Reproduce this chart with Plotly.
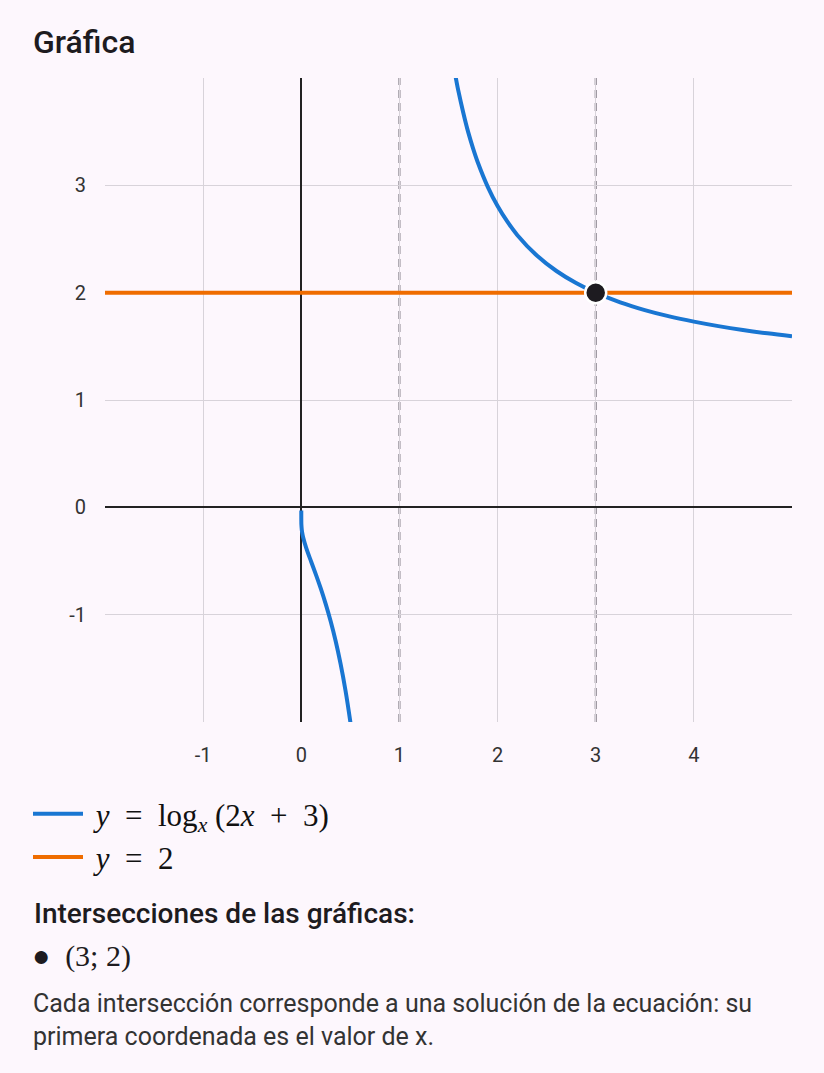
import plotly.graph_objects as go

# Branch of y = log_x(2x+3) for 0 < x < 1
x_left = [0.0, 0.0001, 0.001, 0.005, 0.01, 0.02, 0.05, 0.1, 0.15, 0.2, 0.25, 0.3, 0.35, 0.4, 0.45, 0.5, 0.52]
y_left = [-0.03, -0.119, -0.159, -0.208, -0.240, -0.284, -0.378, -0.505, -0.629, -0.760, -0.904, -1.064, -1.246, -1.457, -1.704, -2.0, -2.135]

# Branch for x > 1
x_right = [1.55, 1.56, 1.58, 1.6, 1.65, 1.7, 1.75, 1.8, 1.9, 2.0, 2.1, 2.2, 2.4, 2.6, 2.8, 3.0, 3.25, 3.5, 3.75, 4.0, 4.25, 4.5, 4.75, 5.0]
y_right = [4.126, 4.074, 3.975, 3.882, 3.679, 3.498, 3.345, 3.210, 2.986, 2.807, 2.661, 2.538, 2.346, 2.202, 2.090, 2.0, 1.910, 1.838, 1.779, 1.730, 1.688, 1.652, 1.621, 1.594]

# Horizontal line y = 2
x_line = [-2, 5]
y_line = [2, 2]

# Dashed verticals (x = 1 excluded base, x = 3 solution)
dashed_x = [1, 3]

# Intersection point
inter_x = [3]
inter_y = [2]

x_ticks = [-1, 0, 1, 2, 3, 4]
y_ticks = [-1, 0, 1, 2, 3]

BLUE = "#1976d2"
ORANGE = "#ef6c00"
BG = "#fdf7fd"
DARK = "#1d1b20"

fig = go.Figure()

fig.add_trace(go.Scatter(
    x=x_left, y=y_left, mode="lines", line_shape="spline",
    line=dict(color=BLUE, width=4),
    name="&nbsp;<i>y</i>&nbsp; = &nbsp;log<sub><i>x</i></sub>&nbsp;(2<i>x</i>&nbsp; + &nbsp;3)",
    legendgroup="f", showlegend=True, hoverinfo="skip"))
fig.add_trace(go.Scatter(
    x=x_right, y=y_right, mode="lines", line_shape="spline",
    line=dict(color=BLUE, width=4),
    legendgroup="f", showlegend=False, hoverinfo="skip"))
fig.add_trace(go.Scatter(
    x=x_line, y=y_line, mode="lines",
    line=dict(color=ORANGE, width=4),
    name="&nbsp;<i>y</i>&nbsp; = &nbsp;2", hoverinfo="skip"))
fig.add_trace(go.Scatter(
    x=inter_x, y=inter_y, mode="markers",
    marker=dict(color=DARK, size=21, line=dict(color="white", width=2.5)),
    showlegend=False, hoverinfo="skip"))

for xv in dashed_x:
    fig.add_shape(type="line", xref="x", yref="paper", x0=xv, x1=xv, y0=0, y1=1,
                  line=dict(color="#79747e", width=2, dash="8px,5px"), layer="below")

fig.update_layout(
    width=824, height=1073,
    paper_bgcolor=BG, plot_bgcolor=BG,
    margin=dict(l=105, r=32, t=78, b=351, autoexpand=False),
    font=dict(family="Roboto", color="#333333", size=20),
    title=dict(text="Gráfica", x=33/824, xanchor="left", xref="container",
               y=1 - 42/1073, yanchor="middle", yref="container",
               font=dict(family="Roboto", size=32, color=DARK, weight=500)),
    xaxis=dict(range=[-2, 5], tickvals=x_ticks, ticktext=[str(v) for v in x_ticks],
               showgrid=True, gridcolor="#d8d3da", gridwidth=1,
               zeroline=True, zerolinecolor="#222222", zerolinewidth=2,
               showline=False, ticks="", ticklabelstandoff=19,
               tickfont=dict(family="Roboto", size=20, color="#333333")),
    yaxis=dict(range=[-2, 4], tickvals=y_ticks, ticktext=[str(v) for v in y_ticks],
               showgrid=True, gridcolor="#d8d3da", gridwidth=1,
               zeroline=True, zerolinecolor="#222222", zerolinewidth=2,
               showline=False, ticks="", ticklabelstandoff=18,
               tickfont=dict(family="Roboto", size=20, color="#333333")),
    legend=dict(xref="container", yref="container", x=28/824, xanchor="left",
                y=1 - 787/1073, yanchor="top", bgcolor="rgba(0,0,0,0)",
                font=dict(family="Liberation Serif", size=31, color="#111111"),
                tracegroupgap=0, itemwidth=50),
    showlegend=True,
)

fig.add_annotation(text="Intersecciones de las gráficas:", xref="paper", yref="paper",
                   x=-(105 - 32) / 687, y=1 - (913 - 78) / 644, xanchor="left", yanchor="middle",
                   showarrow=False, font=dict(family="Roboto", size=28, color=DARK, weight=500))
fig.add_annotation(text="<span style='font-family:Roboto'>●</span>&nbsp; (3; 2)", xref="paper", yref="paper",
                   x=-(105 - 30) / 687, y=1 - (955 - 78) / 644, xanchor="left", yanchor="middle",
                   showarrow=False, font=dict(family="Liberation Serif", size=30, color=DARK))
fig.add_annotation(text="Cada intersección corresponde a una solución de la ecuación: su<br>primera coordenada es el valor de x.",
                   xref="paper", yref="paper", align="left",
                   x=-(105 - 31) / 687, y=1 - (1020 - 78) / 644, xanchor="left", yanchor="middle",
                   showarrow=False, font=dict(family="Roboto", size=25, color="#333333"))

fig.write_html("out.html")
